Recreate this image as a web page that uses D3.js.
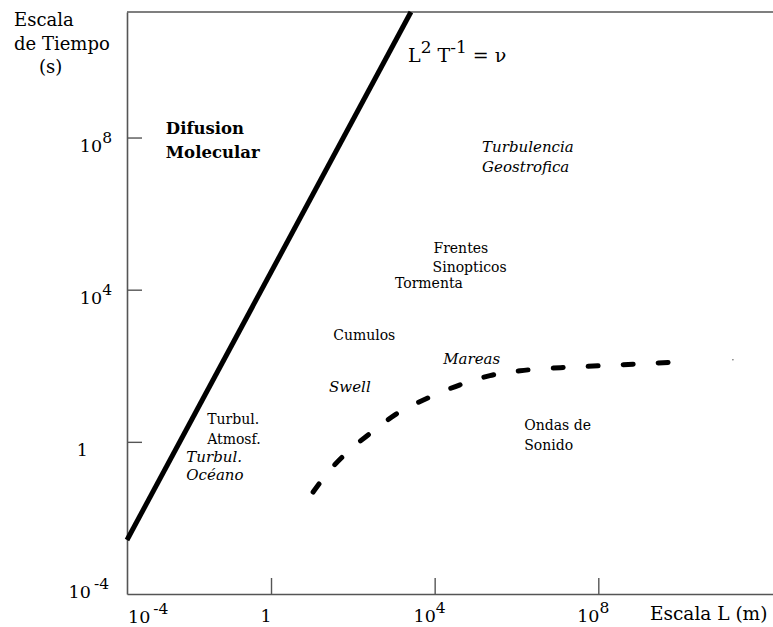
<!DOCTYPE html>
<html>
<head>
<meta charset="utf-8">
<script src="https://cdn.jsdelivr.net/npm/d3@7"></script>
<style>
  body { margin: 0; background: #fff; }
  svg { display: block; font-family: "DejaVu Serif", "Liberation Serif", serif; }
</style>
</head>
<body>
<svg id="chart" width="773" height="627"></svg>
<script>
// Tick values (log10 exponents) for both axes
const xTickExp = [0, 4, 8];
const yTickExp = [0, 4, 8];

// Molecular diffusion line L^2 T^-1 = nu, end points (log10)
const diffL = [-3.52, 3.42];
const diffT = [-2.58, 11.3];

// Dashed curve (dispersion limit) (log10)
const curveL = [1.03, 1.44, 1.93, 2.54, 3.15, 3.89, 4.62, 5.35, 6.09, 7.07, 8.04, 9.02, 9.93];
const curveT = [-1.32, -0.74, -0.21, 0.32, 0.79, 1.18, 1.5, 1.74, 1.87, 1.95, 2.0, 2.05, 2.1];

// Region labels: text, log10 L, log10 T, style
const regionNames = ['Difusion', 'Molecular', 'Turbulencia', 'Geostrofica', 'Frentes', 'Sinopticos',
  'Tormenta', 'Cumulos', 'Mareas', 'Swell', 'Turbul.', 'Atmosf.', 'Turbul.', 'Océano', 'Ondas de', 'Sonido'];
const regionL = [-2.57, -2.57, 5.16, 5.16, 3.97, 3.95, 3.03, 1.52, 4.21, 1.42, -1.56, -1.56, -2.07, -2.07, 6.19, 6.19];
const regionT = [8.08, 7.45, 7.63, 7.1, 4.97, 4.47, 4.05, 2.68, 2.05, 1.31, 0.47, -0.05, -0.53, -1.0, 0.31, -0.21];
const regionKind = ['bold', 'bold', 'it', 'it', 'n', 'n', 'n', 'n', 'it', 'it', 'n', 'n', 'it', 'it', 'n', 'n'];

const svg = d3.select('#chart');
const W = 773;
const plotLeft = 127, plotTop = 12, plotBottom = 594;

const x = d3.scaleLog().domain([Math.pow(10, -3.52), Math.pow(10, 12.27)]).range([plotLeft, W]);
const y = d3.scaleLog().domain([1e-4, Math.pow(10, 11.3)]).range([plotBottom, plotTop]);
const p10 = e => Math.pow(10, e);

const axisColor = '#555';

// Axes with inward ticks
const gx = svg.append('g')
    .attr('transform', `translate(0, ${plotBottom})`)
    .call(d3.axisBottom(x).tickValues(xTickExp.map(p10)).tickSizeInner(-16).tickSizeOuter(0).tickFormat(''));
const gy = svg.append('g')
    .attr('transform', `translate(${plotLeft}, 0)`)
    .call(d3.axisLeft(y).tickValues(yTickExp.map(p10)).tickSizeInner(-15).tickSizeOuter(0).tickFormat(''));
[gx, gy].forEach(g => {
    g.select('.domain').attr('stroke', axisColor).attr('stroke-width', 1.6);
    g.selectAll('.tick line').attr('stroke', axisColor).attr('stroke-width', 1.4);
});

// Top frame line
svg.append('line')
    .attr('x1', plotLeft).attr('x2', W)
    .attr('y1', plotTop).attr('y2', plotTop)
    .attr('stroke', axisColor).attr('stroke-width', 1.6);

// Power-of-ten label helper
function powLabel(g, xp, yp, exp, anchor) {
    const t = g.append('text')
        .attr('x', xp).attr('y', yp)
        .attr('text-anchor', anchor)
        .attr('font-size', 17.5);
    if (exp === 0) {
        t.text('1');
        return t;
    }
    t.append('tspan').text('10');
    t.append('tspan').attr('dy', -9).attr('dx', exp < 0 ? 3 : 0).attr('font-size', 15.5).text(exp);
    return t;
}

const labels = svg.append('g').attr('fill', '#000');

// y tick labels
yTickExp.forEach(e => {
    if (e === 0) powLabel(labels, 88, y(p10(e)) + 14, e, 'end');
    else powLabel(labels, 112, y(p10(e)) + 14, e, 'end');
});
powLabel(labels, 109, plotBottom + 4, -4, 'end');

// x tick labels
xTickExp.forEach(e => {
    powLabel(labels, x(p10(e)) - 5, plotBottom + 28, e, 'middle');
});
powLabel(labels, plotLeft + 1, plotBottom + 29, -4, 'start');

// Axis titles
labels.append('text').attr('x', 650).attr('y', 620).attr('font-size', 18.5).text('Escala L (m)');
labels.append('text').attr('x', 14).attr('y', 26).attr('font-size', 18).text('Escala');
labels.append('text').attr('x', 14).attr('y', 50).attr('font-size', 18).text('de Tiempo');
labels.append('text').attr('x', 39).attr('y', 73).attr('font-size', 18).text('(s)');

// Molecular diffusion line
const line = d3.line().x(d => x(p10(d[0]))).y(d => y(p10(d[1])));
svg.append('path')
    .datum(diffL.map((l, i) => [l, diffT[i]]))
    .attr('d', line)
    .attr('fill', 'none')
    .attr('stroke', '#000')
    .attr('stroke-width', 5);

// Equation label
const eq = labels.append('text').attr('x', 408).attr('y', 62).attr('font-size', 19);
eq.append('tspan').text('L');
eq.append('tspan').attr('dy', -9).attr('font-size', 17).text('2');
eq.append('tspan').attr('dy', 9).text(' T');
eq.append('tspan').attr('dy', -9).attr('font-size', 17).text('-1');
eq.append('tspan').attr('dy', 9).text(' = ν');

// Dashed curve
const curve = d3.line().curve(d3.curveCatmullRom)
    .x(d => x(p10(d[0]))).y(d => y(p10(d[1])));
svg.append('path')
    .datum(curveL.map((l, i) => [l, curveT[i]]))
    .attr('d', curve)
    .attr('fill', 'none')
    .attr('stroke', '#000')
    .attr('stroke-width', 5)
    .attr('stroke-linecap', 'round')
    .attr('stroke-dasharray', '10,25');

// Stray dot at right of the curve
svg.append('circle')
    .attr('cx', x(p10(11.29))).attr('cy', y(p10(2.16)))
    .attr('r', 0.8).attr('fill', '#666');

// Region labels
regionNames.forEach((name, i) => {
    const kind = regionKind[i];
    labels.append('text')
        .attr('x', x(p10(regionL[i])))
        .attr('y', y(p10(regionT[i])))
        .attr('font-size', kind === 'bold' ? 16.5 : (kind === 'it' ? 15 : 14))
        .attr('font-weight', kind === 'bold' ? 'bold' : 'normal')
        .attr('font-style', kind === 'it' ? 'italic' : 'normal')
        .text(name);
});
</script>
</body>
</html>
